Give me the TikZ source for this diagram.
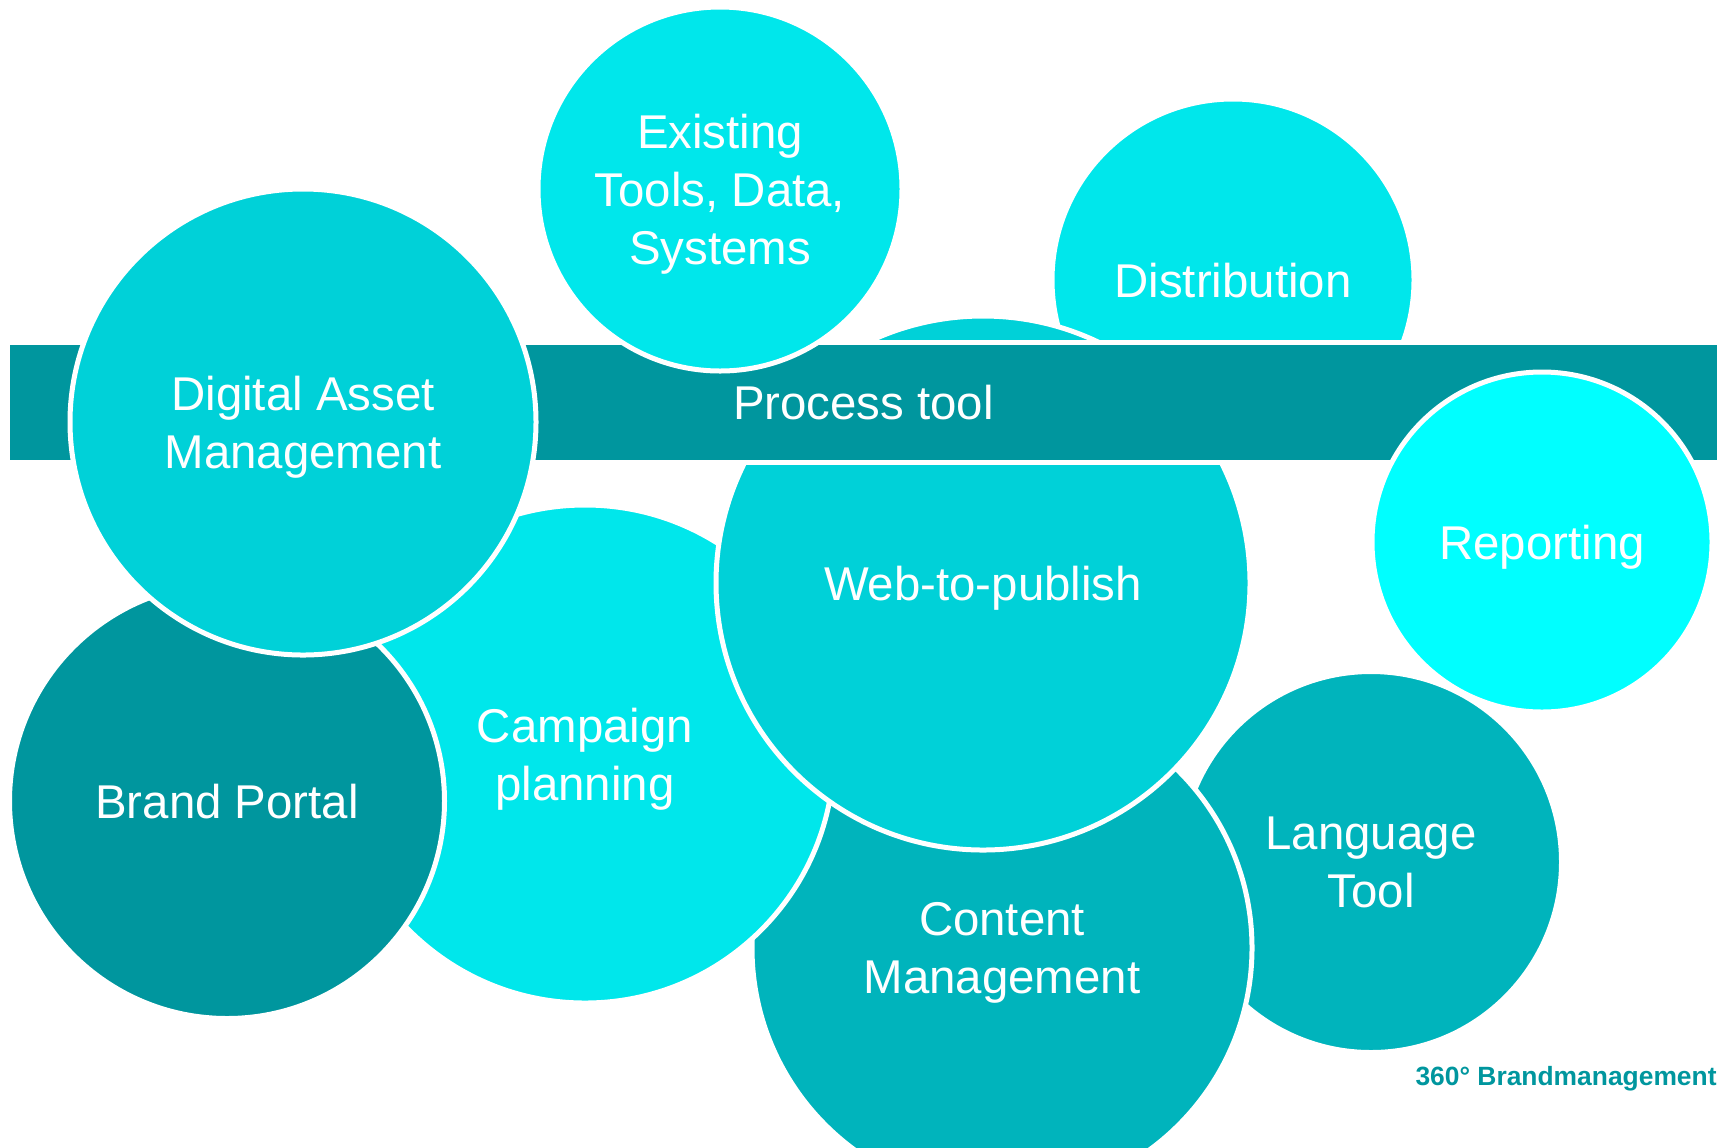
\documentclass[tikz,border=0pt]{standalone}
\usepackage{fontspec}
\setmainfont{Liberation Sans}
\usepackage{xcolor}
\usepackage{tikz}

\definecolor{tealdark}{RGB}{0,150,158}
\definecolor{tealmid}{RGB}{0,180,188}
\definecolor{teallight}{RGB}{0,209,216}
\definecolor{tealbright}{RGB}{0,231,235}
\definecolor{tealcyan}{RGB}{0,255,255}

\begin{document}
\begin{tikzpicture}[x=0.5pt, y=-0.5pt,
    bubble/.style={circle, draw=white, line width=2.5pt, inner sep=0pt, minimum size=#1pt, text=white, text depth=0pt, align=center, font=\fontsize{23.7}{29}\selectfont},
    bar/.style={rectangle, draw=white, line width=2.5pt, fill=tealdark, text=white, minimum width=856pt, minimum height=60pt, font=\fontsize{23.7}{29}\selectfont}]

    \clip (0,0) rectangle (1727,1147);

    % Back row
    \node[bubble=181, fill=tealbright] (distrib) at (1233,280) {Distribution};
    \node[bubble=190.5, fill=tealmid] (lang) at (1371,862) {Language\\Tool};
    \node[bubble=250, fill=tealmid] (content) at (1002,948) {Content\\Management};
    \node[bubble=249, fill=tealbright] (campaign) at (585,754) {Campaign\\planning};
    \node[bubble=267, fill=teallight] (web) at (983,583) {Web-to-publish};

    % Process tool
    \node[bar] (process) at (863.5,402.5) {Process tool};

    % Front row
    \node[bubble=182, fill=tealbright] (existing) at (720,189) {Existing\\Tools, Data,\\Systems};
    \node[bubble=217.5, fill=tealdark] (brand) at (227,801) {Brand Portal};
    \node[bubble=233, fill=teallight] (dam) at (303,422) {Digital Asset\\Management};
    \node[bubble=170, fill=tealcyan] (report) at (1542,542) {Reporting};

    % Footer
    \node[anchor=base east, inner sep=0pt, text=tealdark, font=\fontsize{13.2}{16}\selectfont\bfseries] (footer) at (1717,1085) {360° Brandmanagement};

\end{tikzpicture}
\end{document}
